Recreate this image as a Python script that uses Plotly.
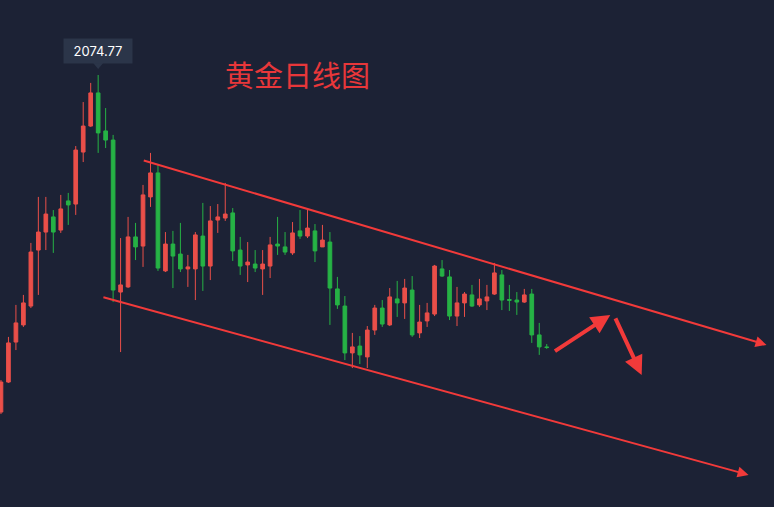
import plotly.graph_objects as go

# daily gold candles (red = up, green = down)
opens = [1956.8, 1967.3, 1981.3, 1987.3, 1993.9, 2013.5, 2019.8, 2025.1, 2020.5, 2030.7,
         2029.6, 2047.8, 2056.9, 2068.5, 2055.2, 2052.0, 1998.8, 2000.6, 2018.1, 2014.9,
         2032.1, 2040.5, 2006.2, 2015.6, 2012.1, 2006.9, 2006.9, 2018.4, 2007.9, 2024.0,
         2024.7, 2026.5, 2013.5, 2008.3, 2008.6, 2006.9, 2007.9, 2015.6, 2014.6, 2012.5,
         2020.2, 2018.4, 2020.2, 2014.6, 2016.3, 1999.9, 1993.9, 1977.5, 1979.9, 1976.1,
         1985.5, 1993.2, 1987.3, 1996.4, 1995.0, 1999.5, 1984.5, 1988.7, 1991.1, 2006.9,
         2004.1, 1990.4, 1995.0, 1997.8, 1994.3, 1995.7, 1998.1, 2004.8, 1996.2, 1996.0,
         1995.3, 1998.1, 1983.8, 1979.6]
highs = [1968.0, 1983.1, 1994.3, 1997.8, 2016.0, 2032.1, 2032.1, 2027.5, 2032.8, 2033.5,
         2049.9, 2065.3, 2072.0, 2074.77, 2063.2, 2053.8, 2017.7, 2025.1, 2023.0, 2036.3,
         2047.5, 2043.3, 2019.8, 2020.2, 2023.0, 2011.8, 2019.8, 2030.0, 2028.9, 2029.6,
         2037.0, 2028.2, 2018.1, 2016.3, 2013.5, 2013.5, 2018.1, 2025.1, 2019.8, 2023.3,
         2027.5, 2028.2, 2022.6, 2022.3, 2019.8, 2004.1, 1997.4, 1984.5, 1983.4, 1986.9,
         1994.3, 1996.0, 2000.2, 2002.7, 2003.4, 2004.4, 1994.3, 1995.0, 2008.3, 2010.0,
         2006.5, 2000.6, 1998.8, 2001.3, 2003.4, 2001.3, 2009.0, 2006.5, 2001.3, 1998.8,
         1999.9, 1999.9, 1988.0, 1980.6]
lows = [1956.1, 1967.0, 1978.5, 1986.6, 1993.2, 1997.8, 2013.5, 2012.5, 2019.5, 2022.3,
        2025.8, 2044.3, 2056.6, 2047.5, 2049.2, 1995.3, 1977.8, 2000.2, 2010.0, 2007.6,
        2028.6, 2006.2, 2005.8, 2000.2, 2005.8, 2000.6, 1996.0, 1999.2, 2003.0, 2019.5,
        2023.7, 2009.7, 2004.8, 2002.3, 2005.8, 1997.8, 2003.7, 2011.8, 2011.8, 2011.8,
        2017.4, 2017.7, 2009.3, 2014.6, 1987.3, 1992.9, 1975.0, 1972.2, 1973.6, 1972.2,
        1983.8, 1986.6, 1986.9, 1990.1, 1989.4, 1983.1, 1982.7, 1986.6, 1990.4, 2004.1,
        1989.0, 1986.9, 1990.1, 1993.6, 1993.6, 1992.5, 1997.8, 1992.5, 1992.2, 1990.8,
        1995.0, 1981.0, 1976.8, 1978.9]
closes = [1967.3, 1981.0, 1988.0, 1995.0, 2012.8, 2019.8, 2026.1, 2019.8, 2027.9, 2029.3,
          2048.5, 2056.9, 2068.5, 2054.5, 2052.0, 1999.5, 2001.3, 2018.1, 2014.6, 2032.8,
          2040.5, 2007.2, 2015.6, 2011.4, 2006.9, 2007.6, 2018.8, 2007.9, 2023.7, 2025.1,
          2026.1, 2013.2, 2007.9, 2009.3, 2007.2, 2008.6, 2015.3, 2014.9, 2012.8, 2019.5,
          2018.4, 2021.2, 2013.2, 2017.0, 2000.2, 1994.3, 1977.5, 1979.6, 1976.8, 1985.5,
          1993.2, 1987.6, 1997.1, 1995.0, 2000.2, 1983.8, 1988.3, 1991.5, 2007.9, 2004.4,
          1990.4, 1995.0, 1998.1, 1993.9, 1996.4, 1997.1, 2005.5, 1996.0, 1995.9, 1995.3,
          1997.8, 1983.8, 1979.6, 1979.4]
days = list(range(len(opens)))

peak_label = "2074.77"
title_text = "黄金日线图"

# channel lines + the two hand-drawn arrows (day index, price)
upper_line = [(18.9, 2045.0), (102.4, 1980.3)]
lower_line = [(13.5, 1997.1), (100.0, 1934.8)]
arrow_up = [(73.9, 1977.8), (81.5, 1990.8)]
arrow_down = [(82.1, 1990.1), (85.7, 1969.8)]

BG = "#1c2235"
RED = "#ea4f49"
GREEN = "#26b245"
PEN = "#f23a3a"
TIP = "#2b3549"

fig = go.Figure(go.Candlestick(
    x=days, open=opens, high=highs, low=lows, close=closes,
    increasing=dict(line=dict(color=RED, width=1), fillcolor=RED),
    decreasing=dict(line=dict(color=GREEN, width=1), fillcolor=GREEN),
    whiskerwidth=0,
    hoverinfo="skip",
))

for (x0, y0), (x1, y1), w in [(*upper_line, 2), (*lower_line, 2),
                              (*arrow_up, 4), (*arrow_down, 4)]:
    fig.add_annotation(
        x=x1, y=y1, ax=x0, ay=y0, xref="x", yref="y", axref="x", ayref="y",
        text="", showarrow=True, arrowhead=2, arrowsize=1.1 if w == 2 else 0.95,
        arrowwidth=w, arrowcolor=PEN,
    )

# price tag over the top, with its little pointer
peak_i = highs.index(max(highs))
fig.add_annotation(
    x=peak_i, y=max(highs), text=peak_label, showarrow=False,
    xanchor="center", yanchor="bottom", yshift=11,
    width=60, height=16, bgcolor=TIP, borderpad=4,
    font=dict(color="#ffffff", size=13, family="Inter"),
)
fig.add_shape(
    type="path", xref="x", yref="y", xsizemode="pixel", ysizemode="pixel",
    xanchor=peak_i, yanchor=max(highs), path="M -5,12 L 5,12 L 0,6 Z",
    fillcolor=TIP, line=dict(width=0),
)

fig.add_annotation(
    x=0.385, y=0.854, xref="paper", yref="paper", text=title_text,
    xanchor="center", yanchor="middle", showarrow=False,
    font=dict(color="#e8373a", size=29, family="Noto Sans CJK SC"),
)

fig.update_layout(
    width=774, height=507,
    margin=dict(l=0, r=0, t=0, b=0),
    paper_bgcolor=BG, plot_bgcolor=BG,
    showlegend=False,
    xaxis=dict(range=[-0.13, 103.4], visible=False, rangeslider=dict(visible=False)),
    yaxis=dict(range=[1923.57, 2101.02], visible=False),
)

# drop the browser's default body margin so the chart sits flush in the window
page_fix = ("document.body.style.margin='0';"
            "document.body.style.overflow='hidden';"
            "document.body.style.background='" + BG + "';")
fig.write_html("out.html", post_script=page_fix, config={"displayModeBar": False})
